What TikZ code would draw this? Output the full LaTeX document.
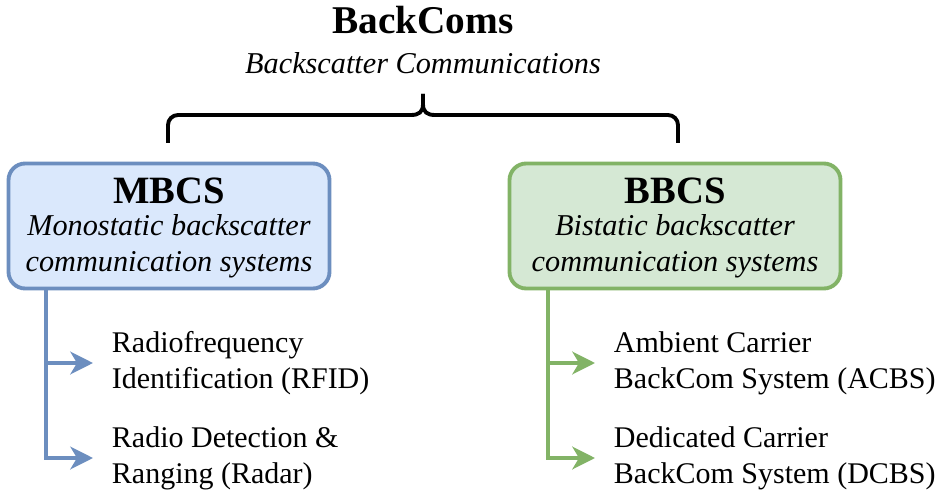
\documentclass[tikz,border=0pt]{standalone}
\usepackage{fontspec}
\setmainfont{Liberation Serif}
\usetikzlibrary{arrows.meta}
\definecolor{mbfill}{HTML}{DAE8FC}
\definecolor{mbline}{HTML}{6C8EBF}
\definecolor{bbfill}{HTML}{D5E8D4}
\definecolor{bbline}{HTML}{82B366}
\begin{document}
\begin{tikzpicture}[x=0.75pt,y=-0.75pt,
  catbox/.style={draw, rounded corners=12.5pt, line width=2.9pt,
    minimum height=93.75pt, inner sep=0pt},
  titletext/.style={font=\fontsize{29.5}{34}\selectfont\bfseries, anchor=base, inner sep=0pt},
  headtext/.style={font=\fontsize{29}{34}\selectfont\bfseries, anchor=base, inner sep=0pt},
  desctext/.style={font=\fontsize{22.7}{27}\selectfont\itshape, anchor=base, inner sep=0pt},
  itemtext/.style={font=\fontsize{22.5}{27}\selectfont, align=left, anchor=west,
    inner xsep=14pt, inner ysep=0pt},
  branch/.style={line width=2.9pt, -{Stealth[length=17pt,width=17pt,inset=5pt]}},
  bracestyle/.style={line width=2.9pt},
]
\useasboundingbox (0,0) rectangle (944,491);

% heading
\node[titletext] (title) at (423,34) {BackComs};
\node[desctext] (subtitle) at (423,74) {Backscatter Communications};

% brace joining the two families
\draw[bracestyle] (423,94) -- (423,104) .. controls (423,112) and (419,115) .. (411,115)
  -- (178,115) .. controls (172.5,115) and (168,119.5) .. (168,125) -- (168,143);
\draw[bracestyle] (423,94) -- (423,104) .. controls (423,112) and (427,115) .. (435,115)
  -- (668,115) .. controls (673.5,115) and (678,119.5) .. (678,125) -- (678,143);

% monostatic family
\node[catbox, draw=mbline, fill=mbfill, minimum width=240.75pt] (mbcs) at (169,226) {};
\node[headtext] (mbcs-name) at (169,204) {MBCS};
\node[desctext] (mbcs-desc1) at (169,236) {Monostatic backscatter};
\node[desctext] (mbcs-desc2) at (169,272) {communication systems};

% bistatic family
\node[catbox, draw=bbline, fill=bbfill, minimum width=248.25pt] (bbcs) at (675,226) {};
\node[headtext] (bbcs-name) at (675,204) {BBCS};
\node[desctext] (bbcs-desc1) at (675,236) {Bistatic backscatter};
\node[desctext] (bbcs-desc2) at (675,272) {communication systems};

% members of each family
\node[itemtext] (rfid) at (93,363) {Radiofrequency\\Identification (RFID)};
\node[itemtext] (radar) at (93,458) {Radio Detection \&\\Ranging (Radar)};
\node[itemtext] (acbs) at (595,363) {Ambient Carrier\\BackCom System (ACBS)};
\node[itemtext] (dcbs) at (595,458) {Dedicated Carrier\\BackCom System (DCBS)};

% trunks and branches
\path (mbcs.south west) ++(39.5,0) coordinate (mtrunk);
\path (bbcs.south west) ++(40.5,0) coordinate (btrunk);
\draw[branch, mbline] (mtrunk) |- (rfid.west);
\draw[branch, mbline] (mtrunk) |- (radar.west);
\draw[branch, bbline] (btrunk) |- (acbs.west);
\draw[branch, bbline] (btrunk) |- (dcbs.west);
\end{tikzpicture}
\end{document}
